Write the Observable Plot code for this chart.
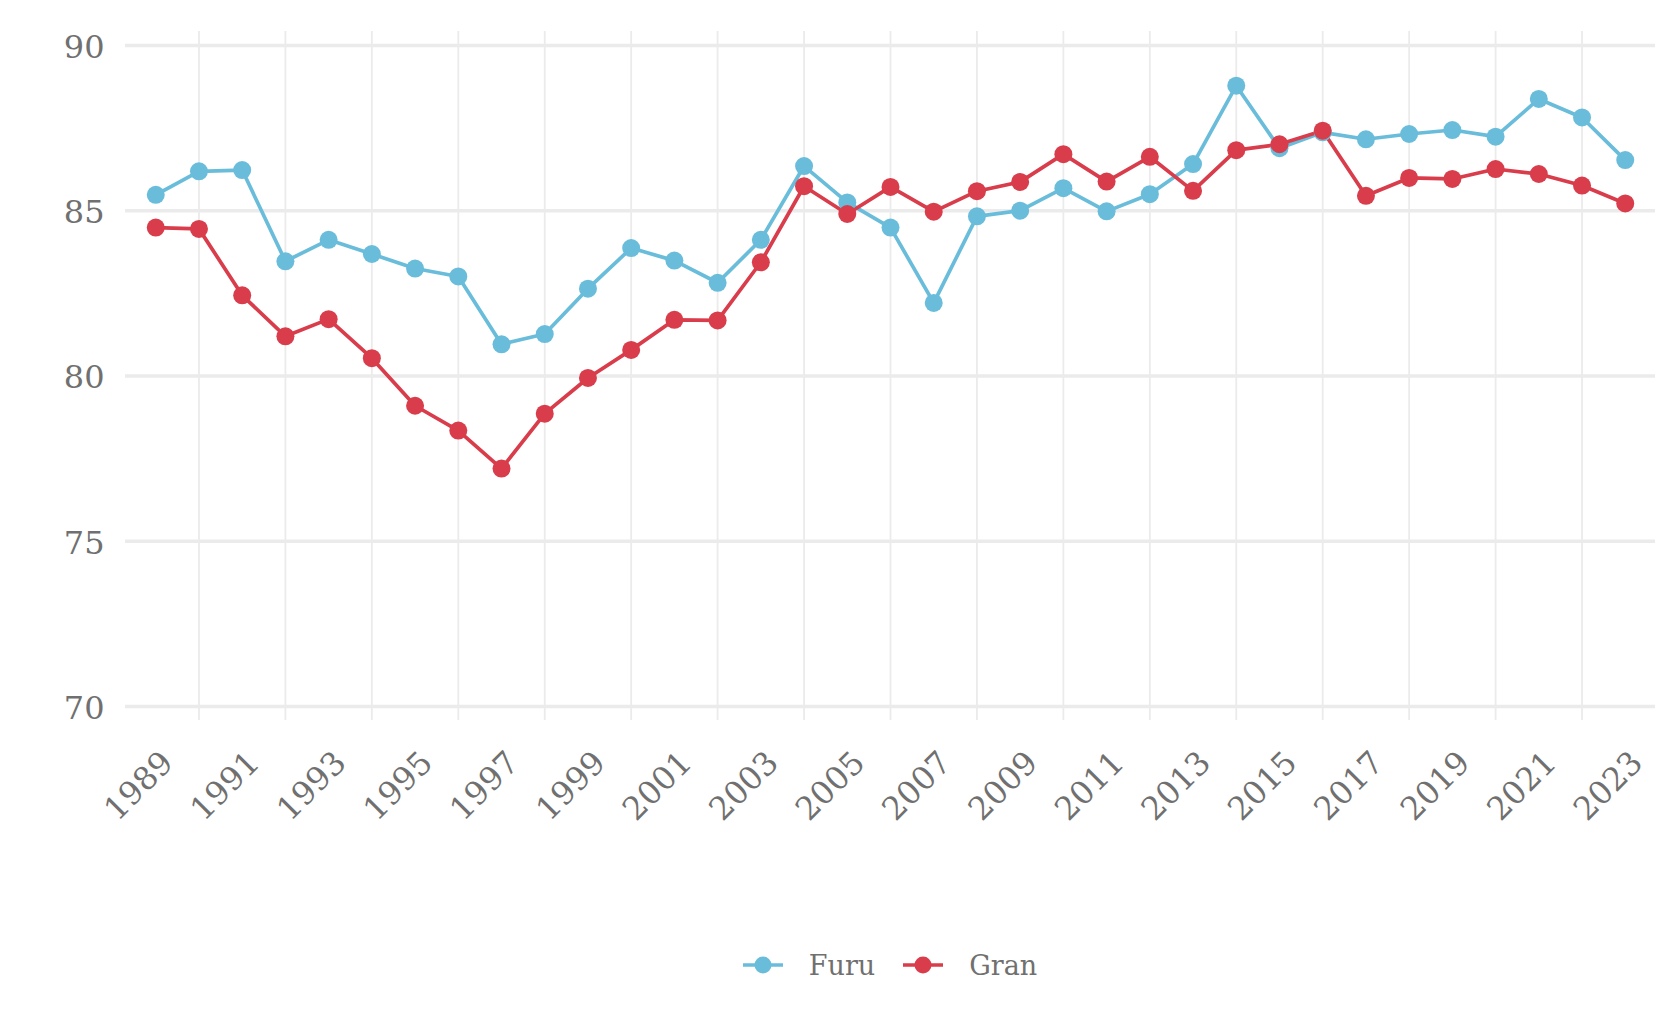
<!DOCTYPE html>
<html><head><meta charset="utf-8">
<script src="https://cdn.jsdelivr.net/npm/d3@7"></script>
<script src="https://cdn.jsdelivr.net/npm/@observablehq/plot@0.6"></script>
<style>
html,body{margin:0;padding:0;background:#fff;overflow:hidden;}
#legend{margin-left:125px;width:1530px;height:110px;padding-top:10px;display:flex;justify-content:center;align-items:center;font-family:"DejaVu Serif",serif;font-size:27px;color:#707070;}
#legend .item{display:flex;align-items:center;}
#legend .item svg{margin-right:26px;}
#legend .item + .item{margin-left:28px;}
</style></head>
<body><div id="chart"></div><div id="legend"></div>
<script>
const years = [1989,1990,1991,1992,1993,1994,1995,1996,1997,1998,1999,2000,2001,2002,2003,2004,2005,2006,2007,2008,2009,2010,2011,2012,2013,2014,2015,2016,2017,2018,2019,2020,2021,2022,2023];
const furu = [85.48,86.19,86.23,83.47,84.12,83.69,83.25,83.01,80.96,81.27,82.64,83.87,83.49,82.82,84.12,86.35,85.25,84.49,82.21,84.83,85.00,85.68,84.98,85.50,86.41,88.78,86.89,87.37,87.16,87.32,87.44,87.24,88.38,87.82,86.53];
const gran = [84.49,84.45,82.44,81.20,81.72,80.54,79.10,78.35,77.20,78.86,79.94,80.79,81.70,81.68,83.44,85.74,84.90,85.72,84.97,85.59,85.87,86.71,85.88,86.63,85.60,86.83,87.01,87.42,85.45,85.99,85.96,86.26,86.11,85.76,85.22];
const seriesNames = ["Furu", "Gran"];
const seriesColors = ["#69bdda", "#d93c4a"];
const yTicks = [70, 75, 80, 85, 90];
const xLabelYears = [1989,1991,1993,1995,1997,1999,2001,2003,2005,2007,2009,2011,2013,2015,2017,2019,2021,2023];
const xGridYears = [1990,1992,1994,1996,1998,2000,2002,2004,2006,2008,2010,2012,2014,2016,2018,2020,2022];

const data = [];
years.forEach((yr, i) => {
  data.push({year: yr, value: furu[i], series: seriesNames[0]});
});
years.forEach((yr, i) => {
  data.push({year: yr, value: gran[i], series: seriesNames[1]});
});

const chart = Plot.plot({
  width: 1680,
  height: 900,
  marginLeft: 125,
  marginRight: 25,
  marginTop: 31,
  marginBottom: 180,
  style: {fontFamily: '"DejaVu Serif", serif', fontSize: "32px", color: "#707070", background: "#fff"},
  x: {domain: [1988.3, 2023.7]},
  y: {domain: [69.58, 90.42]},
  color: {domain: seriesNames, range: seriesColors},
  marks: [
    Plot.gridX(xGridYears, {stroke: "#ebebeb", strokeOpacity: 1, strokeWidth: 1.8}),
    Plot.gridY(yTicks, {stroke: "#ebebeb", strokeOpacity: 1, strokeWidth: 3.5}),
    Plot.axisY(yTicks, {tickSize: 0, tickPadding: 21, fontSize: 32, fill: "#707070", label: null, dy: 2}),
    Plot.axisX(xLabelYears, {tickSize: 0, tickRotate: -45, tickFormat: d => String(d), fontSize: 32, fill: "#707070", label: null, dx: 12, dy: 25}),
    Plot.line(data, {x: "year", y: "value", stroke: "series", z: "series", strokeWidth: 3.7}),
    Plot.dot(data, {x: "year", y: "value", fill: "series", r: 9})
  ]
});
document.getElementById("chart").appendChild(chart);

const legend = document.getElementById("legend");
seriesNames.forEach((name, i) => {
  const item = document.createElement("div");
  item.className = "item";
  item.innerHTML = `<svg width="40" height="24"><line x1="0" x2="40" y1="12" y2="12" stroke="${seriesColors[i]}" stroke-width="3.5"/><circle cx="20" cy="12" r="8.5" fill="${seriesColors[i]}"/></svg><span>${name}</span>`;
  legend.appendChild(item);
});
</script>
</body></html>
